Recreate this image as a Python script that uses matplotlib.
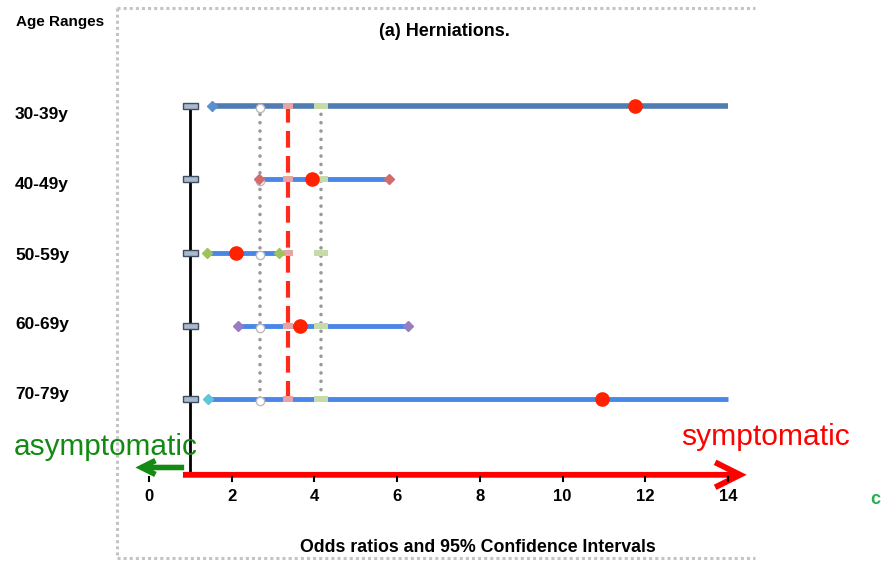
import matplotlib
matplotlib.use("Agg")
import matplotlib.pyplot as plt
from matplotlib.patches import Rectangle
from matplotlib.lines import Line2D

# ---- data ----
age_ranges = ["30-39y", "40-49y", "50-59y", "60-69y", "70-79y"]
odds_ratio = [11.75, 3.95, 2.10, 3.65, 10.95]
ci_lower = [1.52, 2.66, 1.40, 2.15, 1.43]
ci_upper = [14.0, 5.80, 3.14, 6.26, 14.0]
upper_clipped = [True, False, False, False, True]
ref_low = 2.68
ref_mid = 3.36
ref_high = 4.16
xticks = [0, 2, 4, 6, 8, 10, 12, 14]

line_colors = ["#4f7db3", "#4a86e8", "#4a86e8", "#4a86e8", "#4a86e8"]
diamond_colors = ["#5b8fd0", "#d46a6a", "#9cc45a", "#9a7cc0", "#62c3dc"]

plt.rcParams['font.family'] = ['Liberation Sans', 'DejaVu Sans']

W, H = 882, 563
fig = plt.figure(figsize=(W / 100, H / 100), dpi=100)
ax = fig.add_axes([0, 0, 1, 1])
ax.axis("off")

# pixel mapping: x0 -> 149 px, 41.36 px per unit; row y=5 -> 106 px, 73.25 px per unit
PX_X = 41.36
X0 = 149.0
PX_Y = 73.25
ax.set_xlim(-X0 / PX_X, (W - X0) / PX_X)
ax.set_ylim(5 - (H - 106) / PX_Y, 5 + 106 / PX_Y)

n = len(age_ranges)
ypos = [n - i for i in range(n)]  # 5..1

# frame (dotted gray, top/left/bottom)
fx0, fx1, fy0, fy1 = 117 / W, 755 / W, 1 - 8 / H, 1 - 558 / H
for xs, ys in [([fx0, fx1], [fy0, fy0]), ([fx0, fx0], [fy0, fy1]), ([fx0, fx1], [fy1, fy1])]:
    fig.add_artist(Line2D(xs, ys, transform=fig.transFigure, color="#c4c4c4",
                          lw=2.2, linestyle=(0, (1, 1))))

# reference lines
ax.plot([ref_low, ref_low], [ypos[0], ypos[-1]], color="#9a9a9a", lw=2.6,
        linestyle=(0, (0.01, 2.3)), dash_capstyle="round", zorder=2)
ax.plot([ref_high, ref_high], [ypos[0], ypos[-1]], color="#9a9a9a", lw=2.6,
        linestyle=(0, (0.01, 2.3)), dash_capstyle="round", zorder=2)
ax.plot([ref_mid, ref_mid], [ypos[0], ypos[-1]], color="#ff2a1a", lw=3,
        linestyle=(0, (4, 2)), zorder=3)

# vertical axis at OR = 1
ax.plot([1, 1], [ypos[0], 0.0], color="black", lw=2, zorder=4)
for y in ypos:
    ax.add_patch(Rectangle((1 - 7 / PX_X, y - 3 / PX_Y), 15 / PX_X, 6 / PX_Y,
                           facecolor="#a9b9cf", edgecolor="#3f4d5e", lw=1, zorder=5))

# CI lines
for i, y in enumerate(ypos):
    lw = 4 if i == 0 else 3.5
    ax.plot([ci_lower[i], ci_upper[i]], [y, y], color=line_colors[i], lw=lw,
            solid_capstyle="butt", zorder=4)
    # reference markers on each row
    ax.plot(ref_low, y - 0.03, marker="o", ms=6, mfc="white", mec="#bbbbbb", mew=1, zorder=5)
    ax.add_patch(Rectangle((ref_mid - 5 / PX_X, y - 3 / PX_Y), 10 / PX_X, 6 / PX_Y,
                           facecolor="#e8a4a4", edgecolor="none", zorder=5))
    ax.add_patch(Rectangle((ref_high - 7 / PX_X, y - 3 / PX_Y), 14 / PX_X, 6 / PX_Y,
                           facecolor="#c5dba8", edgecolor="none", zorder=5))
    # diamonds
    ax.plot(ci_lower[i], y, marker="D", ms=5, mfc=diamond_colors[i], mec=diamond_colors[i], zorder=6)
    if not upper_clipped[i]:
        ax.plot(ci_upper[i], y, marker="D", ms=5, mfc=diamond_colors[i], mec=diamond_colors[i], zorder=6)
    # point estimate
    ax.plot(odds_ratio[i], y, marker="o", ms=9.5, mfc="#ff2200", mec="#ff2200", zorder=7)

# horizontal axis arrows (open chevron heads)
ax.annotate("", xy=(14.45, -0.035), xytext=(0.82, -0.035),
            arrowprops=dict(arrowstyle="->,head_length=1.8,head_width=0.9", color="#ff0000",
                            lw=4.2, shrinkA=0, shrinkB=0, mutation_scale=10,
                            joinstyle="miter", capstyle="butt"), zorder=6)
ax.annotate("", xy=(-0.33, 0.065), xytext=(0.85, 0.065),
            arrowprops=dict(arrowstyle="->,head_length=1.0,head_width=0.5", color="#138a13",
                            lw=4, shrinkA=0, shrinkB=0, mutation_scale=10,
                            joinstyle="miter", capstyle="butt"), zorder=5)

# ticks and labels
for t in xticks:
    ax.plot([t, t], [-0.06, -0.115], color="black", lw=1.5, zorder=7)
    ax.text(t, -0.33, str(t), ha="center", va="center", fontsize=12, fontweight="bold",
            family=['Liberation Sans Narrow', 'Liberation Sans', 'DejaVu Sans'])

# row labels
for i, lab in enumerate(age_ranges):
    fig.text(15 / W, 1 - (115 + i * 70) / H, lab, ha="left", va="center", fontsize=12.5,
             fontweight="bold")

fig.text(60 / W, 1 - 22 / H, "Age Ranges", ha="center", va="center", fontsize=11, fontweight="bold")
fig.text(444 / W, 1 - 32 / H, "(a) Herniations.", ha="center", va="center", fontsize=13, fontweight="bold")
fig.text(478 / W, 1 - 548 / H, "Odds ratios and 95% Confidence Intervals", ha="center", va="center",
         fontsize=12.8, fontweight="bold")
fig.text(14 / W, 1 - 447 / H, "asymptomatic", ha="left", va="center", fontsize=21.4, color="#138a13")
fig.text(850 / W, 1 - 437 / H, "symptomatic", ha="right", va="center", fontsize=21.6, color="#ff0000")
fig.text(875 / W, 1 - 500 / H, "c", ha="center", va="center", fontsize=13, fontweight="bold", color="#22b04a")

fig.savefig("out.png", dpi=100)
